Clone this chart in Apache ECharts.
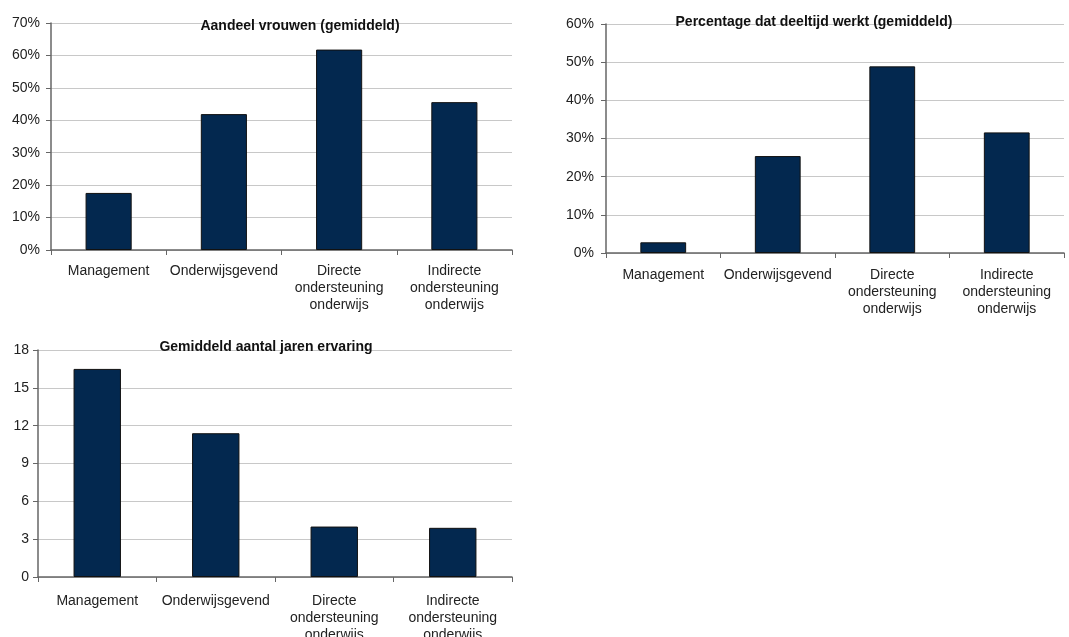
<!DOCTYPE html>
<html>
<head>
<meta charset="utf-8">
<script src="https://cdn.jsdelivr.net/npm/echarts@6/dist/echarts.min.js"></script>
<style>
html,body{margin:0;padding:0;background:#fff;}
#chart{width:1069px;height:637px;}
</style>
</head>
<body>
<div id="chart"></div>
<script>
const categories = ['Management', 'Onderwijsgevend', 'Directe\nondersteuning\nonderwijs', 'Indirecte\nondersteuning\nonderwijs'];
const titles = ['Aandeel vrouwen (gemiddeld)', 'Percentage dat deeltijd werkt (gemiddeld)', 'Gemiddeld aantal jaren ervaring'];
const aandeelVrouwen = [17.6, 41.9, 61.8, 45.6];
const deeltijd = [2.8, 25.4, 48.9, 31.6];
const jarenErvaring = [16.5, 11.4, 4.0, 3.9];
const yMax = [70, 60, 18];
const yInterval = [10, 10, 3];

const FONT = '"Liberation Sans", Arial, sans-serif';
const grids = [
  {left: 51, top: 23, width: 461, height: 227},
  {left: 606, top: 24, width: 458, height: 229},
  {left: 38, top: 350, width: 474, height: 227}
];
const titlePos = [
  {left: 300, top: 19},
  {left: 814, top: 15},
  {left: 266, top: 340}
];
const labelMargins = [11, 12, 9];
const xLabelMargins = [13, 14, 16];
const formatters = ['{value}%', '{value}%', '{value}'];
const seriesData = [aandeelVrouwen, deeltijd, jarenErvaring];

const option = {
  backgroundColor: '#fff',
  animation: false,
  title: titles.map((t, i) => ({
    text: t,
    left: titlePos[i].left,
    top: titlePos[i].top,
    textAlign: 'center',
    padding: 0,
    textStyle: {fontFamily: FONT, fontSize: 14, fontWeight: 'bold', color: '#111'}
  })),
  grid: grids.map(g => Object.assign({containLabel: false, outerBoundsMode: 'none'}, g)),
  xAxis: grids.map((g, i) => ({
    type: 'category',
    gridIndex: i,
    data: categories,
    axisLine: {lineStyle: {color: '#666', width: 1.5}},
    axisTick: {show: true, length: 5, lineStyle: {color: '#666'}},
    axisLabel: {interval: 0, margin: xLabelMargins[i], fontFamily: FONT, fontSize: 14, color: '#222', lineHeight: 17, align: 'center'},
    splitLine: {show: false}
  })),
  yAxis: grids.map((g, i) => ({
    type: 'value',
    gridIndex: i,
    min: 0,
    max: yMax[i],
    interval: yInterval[i],
    axisLine: {show: true, lineStyle: {color: '#666', width: 1.5}},
    axisTick: {show: true, length: 5, lineStyle: {color: '#666'}},
    axisLabel: {margin: labelMargins[i], formatter: formatters[i], fontFamily: FONT, fontSize: 14, color: '#222'},
    splitLine: {show: true, lineStyle: {color: '#c8c8c8', width: 1}}
  })),
  series: seriesData.map((d, i) => ({
    type: 'bar',
    xAxisIndex: i,
    yAxisIndex: i,
    data: d,
    barWidth: '40%',
    itemStyle: {color: '#03284f', borderColor: '#111', borderWidth: 1}
  }))
};

const chart = echarts.init(document.getElementById('chart'), null, {renderer: 'canvas'});
chart.setOption(option);
</script>
</body>
</html>
